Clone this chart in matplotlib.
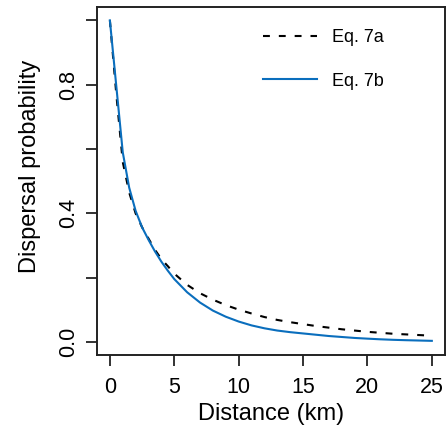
import matplotlib
matplotlib.use("Agg")
import matplotlib.pyplot as plt

plt.rcParams['font.family'] = ['Liberation Sans', 'DejaVu Sans']

distance_km = [0, 0.5, 1, 1.5, 2, 2.5, 3, 3.5, 4, 4.5, 5, 6, 7, 8, 9, 10,
               11, 12, 13, 14, 15, 16, 17, 18, 19, 20, 21, 22, 23, 24, 25]
eq7a = [1.0, 0.77, 0.56, 0.465, 0.40, 0.357, 0.322, 0.287, 0.258, 0.236, 0.213,
        0.178, 0.152, 0.132, 0.115, 0.101, 0.089, 0.078, 0.069, 0.062, 0.056,
        0.050, 0.045, 0.040, 0.036, 0.032, 0.029, 0.026, 0.024, 0.022, 0.020]
eq7b = [1.0, 0.795, 0.59, 0.48, 0.408, 0.357, 0.318, 0.282, 0.25, 0.222, 0.196,
        0.155, 0.123, 0.098, 0.079, 0.064, 0.052, 0.043, 0.036, 0.031, 0.027,
        0.023, 0.019, 0.016, 0.013, 0.0108, 0.0088, 0.0072, 0.006, 0.005, 0.004]
x_ticks = [0, 5, 10, 15, 20, 25]
y_ticks = [0.0, 0.2, 0.4, 0.6, 0.8, 1.0]
y_tick_labels = ["0.0", "", "0.4", "", "0.8", ""]
series_labels = ["Eq. 7a", "Eq. 7b"]

fig = plt.figure(figsize=(4.46, 4.28), dpi=100)
ax = fig.add_axes([97/446, 1 - 355/428, (444.7 - 97)/446, (355 - 7.5)/428])

ax.plot(distance_km, eq7a, color='black', lw=1.5, linestyle=(0, (3.3, 4.3)),
        label=series_labels[0])
ax.plot(distance_km, eq7b, color='#0A6EBD', lw=1.5, label=series_labels[1])

ax.set_xlim(-1, 26)
ax.set_ylim(-0.04, 1.04)
ax.set_xticks(x_ticks)
ax.set_yticks(y_ticks)
ax.set_yticklabels(y_tick_labels, rotation=90, va='center')
ax.tick_params(direction='out', length=8, width=1.3, labelsize=15.5, color='#222222')
ax.tick_params(axis='x', pad=7.5)
ax.tick_params(axis='y', pad=5)
for s in ax.spines.values():
    s.set_linewidth(1.4)
    s.set_color('#222222')

ax.set_xlabel("Distance (km)", fontsize=17, labelpad=4)
ax.set_ylabel("Dispersal probability", fontsize=17)
ax.yaxis.set_label_coords(-0.161, 0.5425)

leg = ax.legend(loc='upper left', bbox_to_anchor=(263/446, 1 - 29/428),
                bbox_transform=fig.transFigure, frameon=False, fontsize=13,
                handlelength=2.97, handletextpad=0.83, labelspacing=1.48,
                borderpad=0, borderaxespad=0)

fig.savefig("out.png", dpi=100)
